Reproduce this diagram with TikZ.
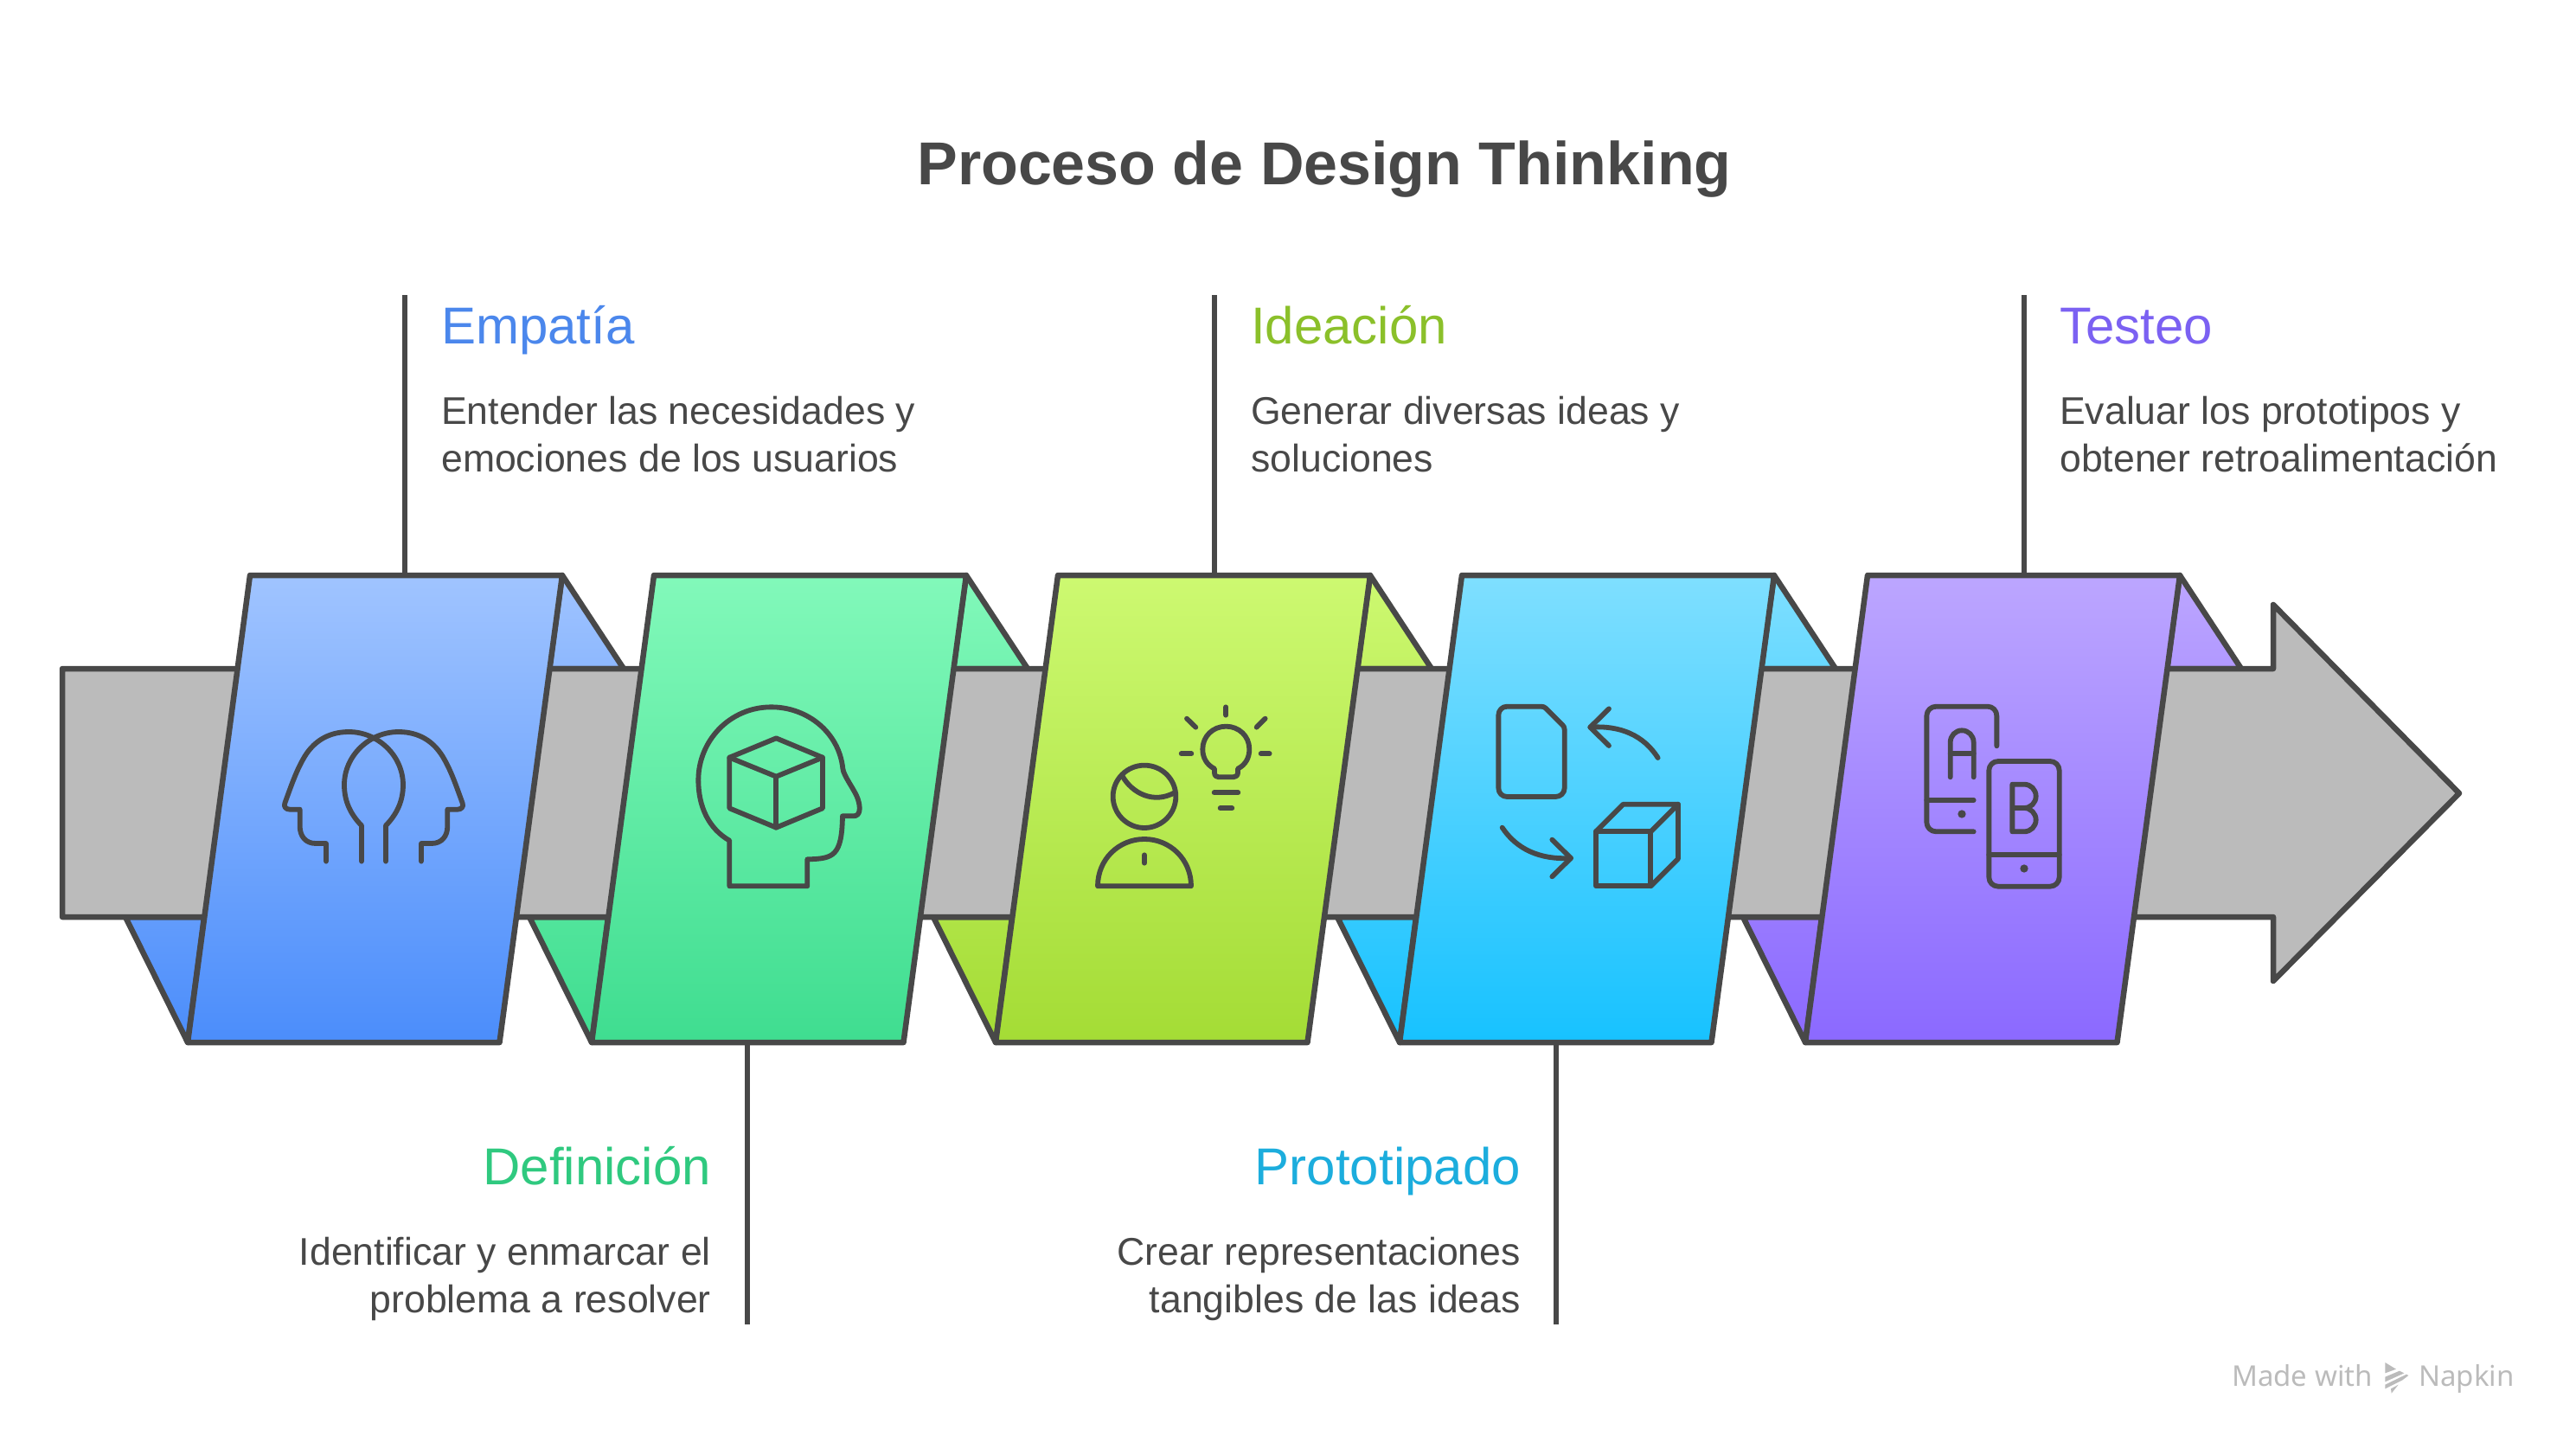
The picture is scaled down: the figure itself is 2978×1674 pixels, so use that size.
\documentclass[tikz,border=0pt]{standalone}
\usepackage{fontspec}
\setmainfont{Liberation Sans}
\newfontfamily\wmfont{Noto Sans}
\definecolor{ink}{HTML}{484848}
\definecolor{band}{HTML}{BBBBBB}
\definecolor{c1t}{HTML}{A0C4FF}\definecolor{c1b}{HTML}{4B8DFB}\definecolor{h1}{HTML}{4B87EC}
\definecolor{c2t}{HTML}{82F9BA}\definecolor{c2b}{HTML}{3FDD90}\definecolor{h2}{HTML}{2FC97F}
\definecolor{c3t}{HTML}{CDF971}\definecolor{c3b}{HTML}{A4DC35}\definecolor{h3}{HTML}{8BC02A}
\definecolor{c4t}{HTML}{7FDFFF}\definecolor{c4b}{HTML}{17C2FF}\definecolor{h4}{HTML}{1CADDD}
\definecolor{c5t}{HTML}{BCA6FF}\definecolor{c5b}{HTML}{8B69FF}\definecolor{h5}{HTML}{7B61F2}
\tikzset{
  outline/.style={draw=ink,line width=6.5pt,line join=round},
  leader/.style={draw=ink,line width=5.5pt},
  iconline/.style={draw=ink,line width=5.8pt,line join=round,line cap=round},
  icondot/.style={fill=ink},
  titletext/.style={inner sep=0pt,text=ink,font=\fontsize{70}{80}\selectfont\bfseries},
  headtext/.style={inner sep=0pt,font=\fontsize{60}{70}\selectfont},
  bodytext/.style={inner sep=0pt,text=ink,font=\fontsize{44.6}{55}\selectfont},
  marktext/.style={inner sep=0pt,text=band,font=\fontsize{33}{40}\selectfont\wmfont},
}
\begin{document}
\begin{tikzpicture}[x=1pt,y=-1pt]
\useasboundingbox (0,0) rectangle (2978,1674);
% title
\node[titletext,anchor=base] (title) at (1531,213) {Proceso de Design Thinking};
% folds
\foreach \i/\xtl in {1/289,2/756,3/1223,4/1690,5/2159}{
  \path[outline,top color=c\i t,bottom color=c\i t!78!c\i b]
    (\xtl+361,665) -- (\xtl+361+71,773) -- (\xtl+361-15,773) -- cycle;
  \path[outline,top color=c\i t!27!c\i b,bottom color=c\i b]
    (\xtl-72,1205) -- (\xtl-72-72,1060) -- (\xtl-53,1060) -- cycle;
}
% band arrow
\path[outline,fill=band] (72,773) -- (2628,773) -- (2628,699) -- (2843,917) -- (2628,1134) -- (2628,1060) -- (72,1060) -- cycle;
% leaders
\coordinate (l1a) at (468,341); \coordinate (l1b) at (468,665);
\coordinate (l2a) at (864,1205); \coordinate (l2b) at (864,1531);
\coordinate (l3a) at (1404,341); \coordinate (l3b) at (1404,665);
\coordinate (l4a) at (1799,1205); \coordinate (l4b) at (1799,1531);
\coordinate (l5a) at (2340,341); \coordinate (l5b) at (2340,665);
\foreach \n in {1,...,5}{\draw[leader] (l\n a) -- (l\n b);}
% panels
\foreach \i/\xtl in {1/289,2/756,3/1223,4/1690,5/2159}{
  \path[outline,top color=c\i t,bottom color=c\i b]
    (\xtl,665) -- (\xtl+361,665) -- (\xtl+288.5,1205) -- (\xtl-72,1205) -- cycle;
}
% texts
\node[headtext,text=h1,anchor=base west] (h1n) at (510,397) {Empatía};
\node[bodytext,align=left,anchor=base west] (b1n) at (510,545) {Entender las necesidades y\\emociones de los usuarios};
\node[headtext,text=h3,anchor=base west] (h3n) at (1446,397) {Ideación};
\node[bodytext,align=left,anchor=base west] (b3n) at (1446,545) {Generar diversas ideas y\\soluciones};
\node[headtext,text=h5,anchor=base west] (h5n) at (2381,397) {Testeo};
\node[bodytext,align=left,anchor=base west] (b5n) at (2381,545) {Evaluar los prototipos y\\obtener retroalimentación};
\node[headtext,text=h2,anchor=base east] (h2n) at (822,1369) {Definición};
\node[bodytext,align=right,anchor=base east] (b2n) at (822,1517) {Identificar y enmarcar el\\problema a resolver};
\node[headtext,text=h4,anchor=base east] (h4n) at (1758,1369) {Prototipado};
\node[bodytext,align=right,anchor=base east] (b4n) at (1758,1517) {Crear representaciones\\tangibles de las ideas};
% icon 1
\begin{scope}[shift={(300,820)},x=0.3333pt,y=-0.3333pt]
\draw[iconline] (231,527) -- (231,465) -- (195,465) .. controls (160,465) and (140,440) .. (140,405) -- (140,347) -- (105,347) .. controls (92,347) and (83,338) .. (88,325) .. controls (110,265) and (125,220) .. (150,175) .. controls (185,110) and (240,78) .. (310,78) .. controls (410,78) and (498,160) .. (498,262) .. controls (498,320) and (475,365) .. (438,403) -- (438,527);
\draw[iconline] (561,527) -- (561,465) -- (597,465) .. controls (632,465) and (652,440) .. (652,405) -- (652,347) -- (687,347) .. controls (700,347) and (709,338) .. (704,325) .. controls (682,265) and (667,220) .. (642,175) .. controls (607,110) and (552,78) .. (482,78) .. controls (382,78) and (294,160) .. (294,262) .. controls (294,320) and (317,365) .. (354,403) -- (354,527);
\end{scope}
% icon 2
\begin{scope}[shift={(760,780)},x=0.3333pt,y=-0.3333pt]
\draw[iconline] (250,575) -- (250,733) -- (520,733) -- (520,640) .. controls (610,638) and (640,630) .. (642,490) -- (680,490) .. controls (705,490) and (705,460) .. (695,430) .. controls (685,400) and (645,350) .. (643,325) .. controls (630,200) and (520,112) .. (395,112) .. controls (250,112) and (142,230) .. (142,365) .. controls (142,460) and (180,535) .. (250,575) -- cycle;
\draw[iconline] (412,220) -- (573,287) -- (573,463) -- (412,530) -- (250,463) -- (250,287) -- cycle;
\draw[iconline] (250,287) -- (412,353) -- (573,287);
\draw[iconline] (412,353) -- (412,530);
\end{scope}
% icon 3
\begin{scope}[shift={(1240,790)},x=0.3333pt,y=-0.3333pt]
\draw[iconline] (532,82) -- (532,110);
\draw[iconline] (396,122) -- (427,152);
\draw[iconline] (668,122) -- (638,152);
\draw[iconline] (377,244) -- (412,244);
\draw[iconline] (653,244) -- (683,244);
\draw[iconline] (491,379) -- (574,379);
\draw[iconline] (512,433) -- (553,433);
\draw[iconline] (492,296) .. controls (465,282) and (451,258) .. (451,228) .. controls (451,183) and (487,149) .. (532,149) .. controls (577,149) and (613,183) .. (613,228) .. controls (613,258) and (600,282) .. (573,296) -- (573,310) .. controls (573,320) and (565,325) .. (557,325) -- (507,325) .. controls (499,325) and (492,320) .. (492,310) -- cycle;
\draw[iconline] (249,284) .. controls (309,284) and (358,332) .. (358,392) .. controls (358,452) and (309,501) .. (249,501) .. controls (189,501) and (140,452) .. (140,392) .. controls (140,332) and (189,284) .. (249,284) -- cycle;
\draw[iconline] (172,320) .. controls (205,380) and (280,420) .. (355,378);
\draw[iconline] (87,703) .. controls (87,610) and (160,540) .. (249,540) .. controls (338,540) and (411,610) .. (411,703) -- cycle;
\draw[iconline] (249,595) -- (249,623);
\end{scope}
% icon 4
\begin{scope}[shift={(1700,790)},x=0.3333pt,y=-0.3333pt]
\draw[iconline] (127,80) -- (245,80) .. controls (252,80) and (257,82) .. (262,87) -- (318,143) .. controls (323,148) and (326,153) .. (326,160) -- (326,363) .. controls (326,380) and (312,393) .. (295,393) -- (127,393) .. controls (110,393) and (97,380) .. (97,363) -- (97,110) .. controls (97,93) and (110,80) .. (127,80) -- cycle;
\draw[iconline] (650,258) .. controls (600,180) and (520,145) .. (415,152);
\draw[iconline] (480,88) -- (415,152) -- (480,216);
\draw[iconline] (110,500) .. controls (160,575) and (240,612) .. (348,606);
\draw[iconline] (283,542) -- (348,606) -- (283,670);
\draw[iconline] (435,514) -- (625,514) -- (625,703) -- (435,703) -- cycle;
\draw[iconline] (435,514) -- (530,419) -- (720,419) -- (625,514);
\draw[iconline] (720,419) -- (720,608) -- (625,703);
\end{scope}
% icon 5
\begin{scope}[shift={(2180,790)},x=0.3333pt,y=-0.3333pt]
\draw[iconline] (385,217) -- (385,112) .. controls (385,94) and (371,80) .. (353,80) -- (175,80) .. controls (157,80) and (142,94) .. (142,112) -- (142,482) .. controls (142,500) and (157,514) .. (175,514) -- (305,514);
\draw[iconline] (142,405) -- (305,405);
\fill[icondot] (264,453) circle[radius=14];
\draw[iconline] (224,325) -- (224,205) .. controls (224,181) and (242,163) .. (264,163) .. controls (287,163) and (305,181) .. (305,205) -- (305,325);
\draw[iconline] (224,244) -- (305,244);
\draw[iconline] (390,270) -- (570,270) .. controls (588,270) and (602,284) .. (602,302) -- (602,672) .. controls (602,690) and (588,704) .. (570,704) -- (390,704) .. controls (372,704) and (358,690) .. (358,672) -- (358,302) .. controls (358,284) and (372,270) .. (390,270) -- cycle;
\draw[iconline] (358,595) -- (602,595);
\fill[icondot] (480,642) circle[radius=14];
\draw[iconline] (439,432) -- (480,432) .. controls (503,432) and (521,451) .. (521,473) .. controls (521,496) and (503,514) .. (480,514) -- (439,514) -- (439,350) -- (480,350) .. controls (503,350) and (521,368) .. (521,391) .. controls (521,414) and (503,432) .. (480,432);
\end{scope}
% watermark
\node[marktext,anchor=base west] (mw) at (2580,1602) {Made with};
\node[marktext,anchor=base west] (mn) at (2796,1602) {Napkin};
\begin{scope}[shift={(2550,1550)},x=0.3333pt,y=-0.3333pt]
\fill[band] (622,75) -- (660,98) -- (622,112) -- cycle;
\fill[band] (622,125) -- (672,104) -- (688,112) -- (622,142) -- cycle;
\fill[band] (622,152) -- (696,116) -- (703,120) -- (682,136) -- (622,166) -- cycle;
\fill[band] (642,166) -- (668,152) -- (644,182) -- cycle;
\end{scope}
\end{tikzpicture}
\end{document}
